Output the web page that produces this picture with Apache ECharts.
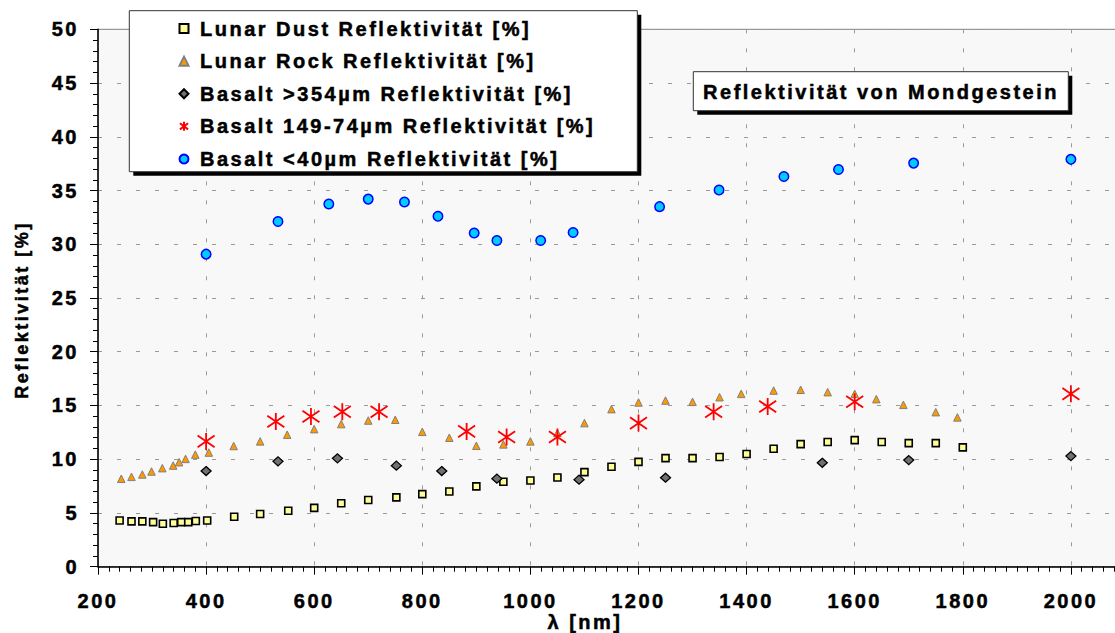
<!DOCTYPE html>
<html>
<head>
<meta charset="utf-8">
<script src="https://cdn.jsdelivr.net/npm/echarts@6.0.0/dist/echarts.min.js"></script>
<style>
html,body{margin:0;padding:0;background:#fff;}
#c{width:1115px;height:633px;}
#c text{letter-spacing:2.5px;}
</style>
</head>
<body>
<div id="c"></div>
<script>
// ---- data ----
const seriesNames = [
  'Lunar Dust Reflektivität [%]',
  'Lunar Rock Reflektivität [%]',
  'Basalt >354µm Reflektivität [%]',
  'Basalt 149-74µm Reflektivität [%]',
  'Basalt <40µm Reflektivität [%]'
];
const dustNm  = [240,262,282,302,320,340,354,367,381,402,452,500,552,600,650,700,752,800,850,900,950,1000,1050,1100,1150,1200,1250,1300,1350,1400,1450,1500,1550,1600,1650,1700,1750,1800];
const dustVal = [4.3,4.22,4.22,4.15,4.0,4.07,4.15,4.15,4.25,4.3,4.65,4.9,5.2,5.47,5.9,6.2,6.45,6.75,7.0,7.47,7.9,8.02,8.3,8.8,9.3,9.75,10.1,10.1,10.2,10.48,10.98,11.4,11.6,11.78,11.6,11.5,11.5,11.1];
const rockNm  = [243,262,282,299,319,339,350,362,380,405,451,500,550,600,650,700,750,800,850,900,950,1000,1050,1100,1150,1200,1250,1300,1350,1390,1450,1500,1550,1600,1640,1690,1750,1790];
const rockVal = [8.18,8.36,8.58,8.86,9.17,9.41,9.72,10.03,10.43,10.62,11.23,11.66,12.28,12.8,13.27,13.6,13.67,12.55,12.0,11.25,11.38,11.66,12.43,13.36,14.66,15.28,15.46,15.34,15.77,16.08,16.39,16.46,16.24,16.08,15.59,15.06,14.38,13.89];
const coarseNm  = [400,533,643,752,836,938,1090,1250,1540,1700,2000];
const coarseVal = [8.9,9.8,10.08,9.4,8.9,8.19,8.1,8.28,9.67,9.92,10.29];
const midNm  = [400,529,594,652,720,882,956,1050,1200,1339,1439,1600,2000];
const midVal = [11.66,13.51,13.98,14.41,14.41,12.59,12.06,12.06,13.36,14.41,14.9,15.34,16.08];
const fineNm  = [400,533,627,700,767,829,896,938,1019,1079,1239,1349,1469,1570,1709,2000];
const fineVal = [29.08,32.12,33.74,34.2,33.93,32.6,31.05,30.35,30.35,31.1,33.5,35.05,36.3,36.95,37.55,37.9];

const xMin = 200, xMax = 2200, xStep = 200, xLastLabel = 2000;
const yMin = 0, yMax = 50, yStep = 5;
const titleText = 'Reflektivität von Mondgestein';
const xName = 'λ [nm]';
const yName = 'Reflektivität [%]';

// ---- chart ----
const FONT = "'Liberation Sans', Arial, sans-serif";
const zip = (xs, ys) => xs.map((x, i) => [x, ys[i]]);
const STAR = 'path://M5,0L5,10M0.5,1.6L9.5,8.4M0.5,8.4L9.5,1.6';
const TB = 0.5; // slight text stroke for the heavy bold look

const chart = echarts.init(document.getElementById('c'), null, {renderer: 'svg'});

const labelStyle = {color: '#000', fontFamily: FONT, fontWeight: 'bold', fontSize: 20, textBorderColor: '#000', textBorderWidth: TB};
const axisCommon = {
  type: 'value',
  axisLine: {show: true, onZero: false, lineStyle: {color: '#000', width: 1.5}},
  axisTick: {show: true, inside: false, length: 8, lineStyle: {color: '#000', width: 1}},
  minorTick: {show: true, length: 5, lineStyle: {color: '#000', width: 1}},
  splitLine: {show: true, lineStyle: {color: '#9a9a9a', type: [4, 15], width: 1}},
  minorSplitLine: {show: false}
};

const option = {
  animation: false,
  backgroundColor: '#fff',
  grid: {
    left: 98, top: 29.3, right: -64, bottom: 66.3,
    show: true, backgroundColor: '#f8f8f8', borderColor: '#808080', borderWidth: 1,
    containLabel: false, outerBoundsMode: 'none'
  },
  xAxis: Object.assign({}, axisCommon, {
    min: xMin, max: xMax, interval: xStep,
    minorTick: Object.assign({}, axisCommon.minorTick, {splitNumber: 10}),
    axisLabel: Object.assign({}, labelStyle, {margin: 24, showMaxLabel: false,
      formatter: v => (v > xLastLabel ? '' : String(v))})
  }),
  yAxis: Object.assign({}, axisCommon, {
    min: yMin, max: yMax, interval: yStep,
    minorTick: Object.assign({}, axisCommon.minorTick, {splitNumber: 5}),
    axisLabel: Object.assign({}, labelStyle, {margin: 19, formatter: v => String(v)})
  }),
  legend: {
    orient: 'vertical', left: 178.5, top: 18.3, padding: 0, itemGap: 12.1,
    itemWidth: 9, itemHeight: 9, selectedMode: false, z: 20,
    textStyle: {fontFamily: FONT, fontWeight: 'bold', fontSize: 20, color: '#000', lineHeight: 20,
      padding: [0, 0, 0, 6.5], textBorderColor: '#000', textBorderWidth: TB},
    data: seriesNames
  },
  graphic: [
    {type: 'rect', silent: true, z: 10, shape: {x: 133.3, y: 14.7, width: 508, height: 161}, style: {fill: '#000'}},
    {type: 'rect', silent: true, z: 11, shape: {x: 129.3, y: 10.7, width: 508, height: 161}, style: {fill: '#fff', stroke: '#333', lineWidth: 1}},
    {type: 'rect', silent: true, z: 10, shape: {x: 697.3, y: 75.7, width: 375, height: 39}, style: {fill: '#000'}},
    {type: 'rect', silent: true, z: 11, shape: {x: 693.3, y: 71.7, width: 375, height: 39}, style: {fill: '#fff', stroke: '#333', lineWidth: 1}},
    {type: 'text', silent: true, z: 12, x: 881, y: 91.5, style: {text: titleText, fontFamily: FONT, fontWeight: 'bold', fontSize: 20, fill: '#000', stroke: '#000', lineWidth: TB, align: 'center', verticalAlign: 'middle'}},
    {type: 'text', silent: true, z: 12, x: 22, y: 310, rotation: Math.PI / 2, style: {text: yName, fontFamily: FONT, fontWeight: 'bold', fontSize: 18, fill: '#000', stroke: '#000', lineWidth: TB, align: 'center', verticalAlign: 'middle'}},
    {type: 'text', silent: true, z: 12, x: 585, y: 622, style: {text: xName, fontFamily: FONT, fontWeight: 'bold', fontSize: 20, fill: '#000', stroke: '#000', lineWidth: TB, align: 'center', verticalAlign: 'middle'}}
  ],
  series: [
    {name: seriesNames[0], type: 'scatter', data: zip(dustNm, dustVal), symbol: 'rect', symbolSize: 7,
     itemStyle: {color: '#ffff99', borderColor: '#000', borderWidth: 1.6, opacity: 1}},
    {name: seriesNames[1], type: 'scatter', data: zip(rockNm, rockVal), symbol: 'triangle', symbolSize: 7.5,
     itemStyle: {color: '#ff9900', borderColor: '#808080', borderWidth: 1, opacity: 1}},
    {name: seriesNames[2], type: 'scatter', data: zip(coarseNm, coarseVal), symbol: 'diamond', symbolSize: [10, 9],
     itemStyle: {color: '#707070', borderColor: '#000', borderWidth: 1.3, opacity: 1}},
    {name: seriesNames[3], type: 'scatter', data: zip(midNm, midVal), symbol: STAR, symbolSize: 17,
     itemStyle: {color: 'rgba(0,0,0,0)', borderColor: '#ff0000', borderWidth: 1.8, opacity: 1}},
    {name: seriesNames[4], type: 'scatter', data: zip(fineNm, fineVal), symbol: 'circle', symbolSize: 9.5,
     itemStyle: {color: '#00ccff', borderColor: '#0000ff', borderWidth: 1.5, opacity: 1}}
  ]
};
chart.setOption(option);
</script>
</body>
</html>
